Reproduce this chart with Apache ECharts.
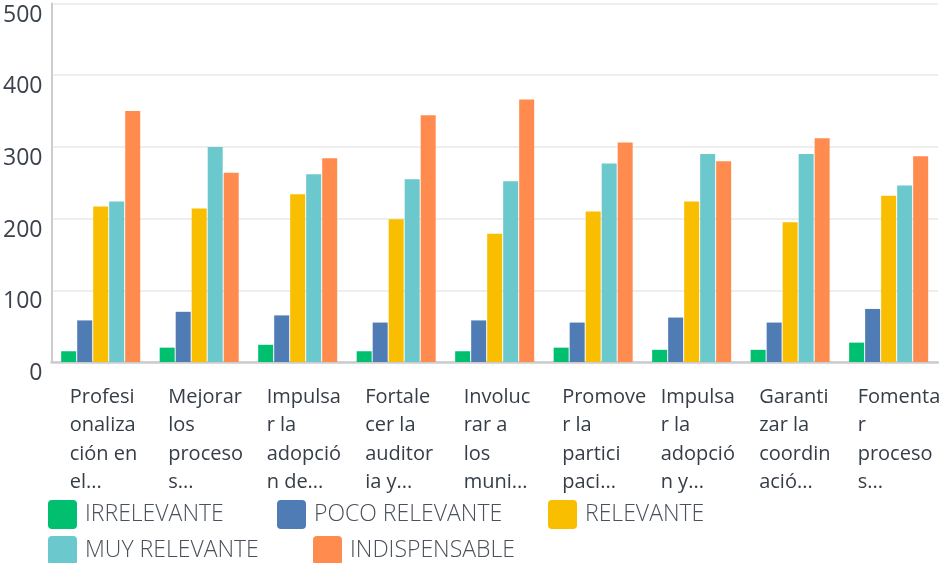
<!DOCTYPE html>
<html>
<head>
<meta charset="utf-8">
<script src="https://cdn.jsdelivr.net/npm/echarts@6/dist/echarts.min.js"></script>
<style>
html,body{margin:0;padding:0;background:#fff;}
#chart{width:943px;height:563px;}
</style>
</head>
<body>
<div id="chart"></div>
<script>
const categories = [
  "Profesi\nonaliza\nción en\nel...",
  "Mejorar\nlos\nproceso\ns...",
  "Impulsa\nr la\nadopció\nn de...",
  "Fortale\ncer la\nauditor\nia y...",
  "Involuc\nrar a\nlos\nmuni...",
  "Promove\nr la\npartici\npaci...",
  "Impulsa\nr la\nadopció\nn y...",
  "Garanti\nzar la\ncoordin\nació...",
  "Fomenta\nr\nproceso\ns..."
];
const seriesNames = ["IRRELEVANTE", "POCO RELEVANTE", "RELEVANTE", "MUY RELEVANTE", "INDISPENSABLE"];
const irrelevante = [15, 20, 24, 15, 15, 20, 17, 17, 27];
const pocoRelevante = [58, 70, 65, 55, 58, 55, 62, 55, 74];
const relevante = [217, 214, 234, 199, 179, 210, 224, 195, 232];
const muyRelevante = [224, 300, 262, 255, 252, 277, 290, 290, 246];
const indispensable = [350, 264, 284, 344, 366, 306, 280, 312, 287];
const yTicks = [0, 100, 200, 300, 400, 500];

const colors = ["#00bf6f", "#507cb6", "#f9be00", "#6bc8cd", "#ff8b4f"];
const values = [irrelevante, pocoRelevante, relevante, muyRelevante, indispensable];
const FONT = "'Open Sans', sans-serif";
const icon = 'path://M4,0 H25 A4,4 0 0 1 29,4 V25 A4,4 0 0 1 25,29 H4 A4,4 0 0 1 0,25 V4 A4,4 0 0 1 4,0 Z';
const legendPos = [[48, 500], [277, 500], [548, 500], [48, 536], [313, 536]];

const chart = echarts.init(document.getElementById('chart'), null, {renderer: 'canvas'});
chart.setOption({
  animation: false,
  color: colors,
  grid: {left: 51, right: 1, top: 3.5, bottom: 201, containLabel: false},
  legend: seriesNames.map((n, i) => ({
    data: [n],
    left: legendPos[i][0],
    top: legendPos[i][1],
    padding: 0,
    itemWidth: 29,
    itemHeight: 29,
    icon: icon,
    selectedMode: false,
    textStyle: {fontFamily: FONT, fontSize: 23, fontWeight: 300, color: '#4a515a', padding: [3, 0, 0, 3]}
  })),
  xAxis: {
    type: 'category',
    data: categories,
    axisLine: {show: true, lineStyle: {color: '#cccccc', width: 2.5}},
    axisTick: {show: false},
    axisLabel: {
      interval: 0,
      hideOverlap: false,
      margin: 21,
      align: 'center',
      formatter: v => v.split('\n').map(l => '{a|' + l + '}').join('\n'),
      rich: {
        a: {width: 62, align: 'left', fontFamily: FONT, fontSize: 20, lineHeight: 28.5, color: '#353d47'}
      }
    }
  },
  yAxis: {
    type: 'value',
    min: yTicks[0],
    max: yTicks[yTicks.length - 1],
    interval: 100,
    axisLine: {show: true, lineStyle: {color: '#cccccc', width: 2}},
    axisTick: {show: false},
    splitLine: {show: true, lineStyle: {color: '#eeeeee', width: 2}},
    axisLabel: {
      margin: 9,
      fontFamily: FONT,
      fontSize: 23,
      color: '#3a424c',
      verticalAlign: 'top',
      lineHeight: 23
    }
  },
  series: seriesNames.map((n, i) => ({
    name: n,
    type: 'bar',
    data: values[i],
    barWidth: 15,
    barGap: '6.7%',
    itemStyle: {color: colors[i]}
  }))
});
</script>
</body>
</html>
